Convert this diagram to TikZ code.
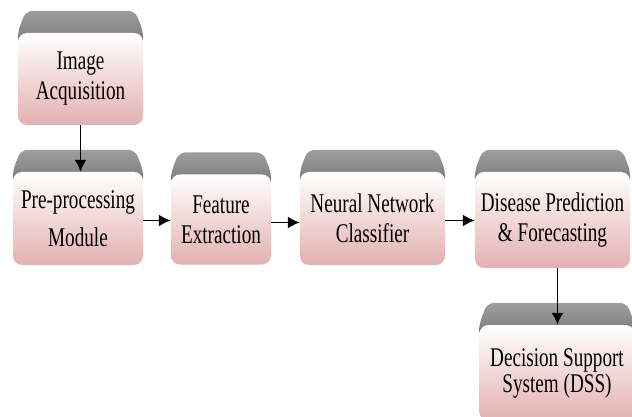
\documentclass[tikz,border=0pt]{standalone}
\usepackage{fontspec}
\newfontfamily\stagefont[FakeStretch=0.71]{Liberation Serif}
\usetikzlibrary{arrows.meta,backgrounds}

\definecolor{lidgray}{RGB}{120,120,120}
\definecolor{lidlight}{RGB}{158,158,158}
\definecolor{stagepink}{RGB}{228,176,176}

\begin{document}
\begin{tikzpicture}[x=1pt,y=-1pt,
    stage/.style={rounded corners=9pt,align=center,inner sep=0pt,
      top color=white,bottom color=stagepink,
      font=\stagefont\fontsize{27}{30}\selectfont},
    lid/.style={rounded corners=7pt,top color=lidlight,bottom color=lidgray},
    flow/.style={-{Latex[length=12pt,width=12pt]},line width=1.6pt}]

  \useasboundingbox (0,0) rectangle (632,417);

  \node[stage,minimum width=125pt,minimum height=92pt] (acq)  at (80.5,79)  {Image\\Acquisition};
  \node[stage,minimum width=130pt,minimum height=93pt] (pre)  at (78,218.5) {Pre-processing\\[8pt]Module};
  \node[stage,minimum width=100pt,minimum height=90pt] (feat) at (221,219.5) {Feature\\Extraction};
  \node[stage,minimum width=145pt,minimum height=93pt] (nn)   at (372.5,218.5) {Neural Network\\Classifier};
  \node[stage,minimum width=155pt,minimum height=96pt] (dis)  at (552.5,220) {Disease Prediction\\\& Forecasting};
  \node[stage,minimum width=155pt,minimum height=96pt] (dss)  at (557,373)  {Decision Support\\[-4pt]System (DSS)};

  % grey lids behind the boxes
  \begin{scope}[on background layer]
    \foreach \n in {acq,pre,feat,nn,dis,dss}
      \path[lid] ([yshift=-12pt]\n.north west) -- ([yshift=1pt]\n.north west)
        -- ([xshift=8pt,yshift=22pt]\n.north west) -- ([xshift=-8pt,yshift=22pt]\n.north east)
        -- ([yshift=1pt]\n.north east) -- ([yshift=-12pt]\n.north east) -- cycle;
  \end{scope}

  \draw[flow] (acq.south) -- (acq.south |- pre.north);
  \draw[flow] ([yshift=-2pt]pre.east) -- ([yshift=-2pt]pre.east -| feat.west);
  \draw[flow] ([yshift=-3pt]feat.east) -- ([yshift=-3pt]feat.east -| nn.west);
  \draw[flow] ([yshift=-2pt]nn.east) -- ([yshift=-2pt]nn.east -| dis.west);
  \draw[flow] ([xshift=5pt]dis.south) -- ([xshift=5pt]dis.south |- dss.north);
\end{tikzpicture}
\end{document}
